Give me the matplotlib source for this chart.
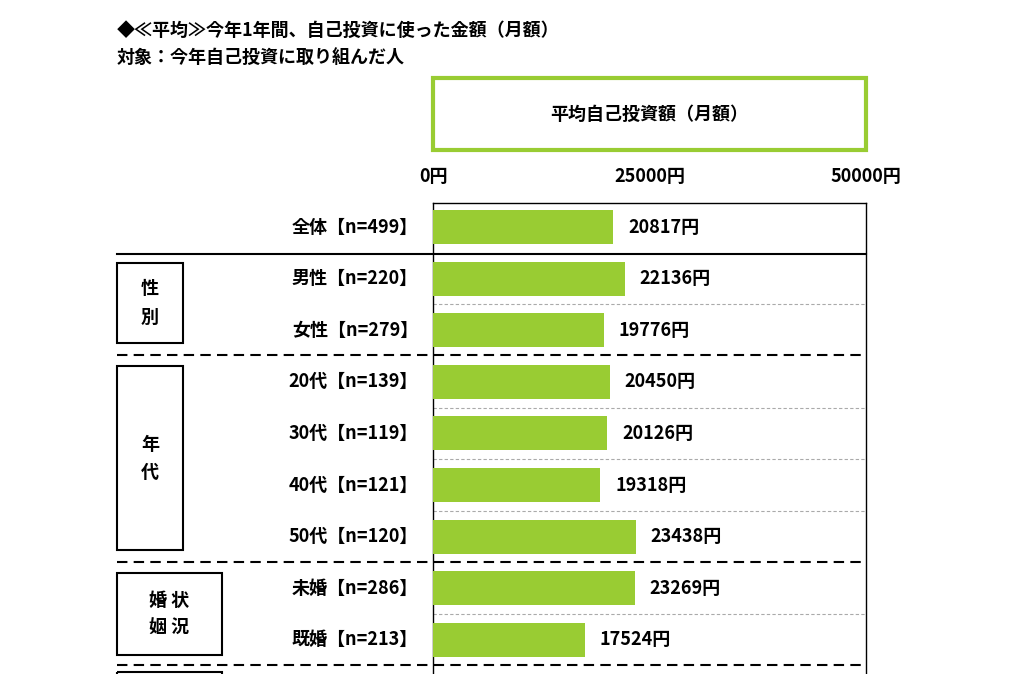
import matplotlib
matplotlib.use("Agg")
import matplotlib.pyplot as plt
from matplotlib.patches import Rectangle

plt.rcParams["font.family"] = "Noto Sans CJK JP"
plt.rcParams["font.weight"] = "bold"

labels = ["全体【n=499】", "男性【n=220】", "女性【n=279】", "20代【n=139】", "30代【n=119】",
          "40代【n=121】", "50代【n=120】", "未婚【n=286】", "既婚【n=213】"]
values = [20817, 22136, 19776, 20450, 20126, 19318, 23438, 23269, 17524]
ticks = [0, 25000, 50000]
tick_labels = ["0円", "25000円", "50000円"]

W, H = 1024, 674
FS = 13
fig = plt.figure(figsize=(W / 100, H / 100), dpi=100)
ov = fig.add_axes([0, 0, 1, 1])
ov.set_xlim(0, W); ov.set_ylim(H, 0); ov.axis("off")

X0, X1 = 433, 866
top, bot, c0, step = 203, 674, 227, 51.6
ax = fig.add_axes([X0 / W, 0, (X1 - X0) / W, (bot - top) / H])
ax.set_xlim(0, 50000)
ax.set_ylim((bot - c0) / step, (top - c0) / step)
green = "#99CC33"
ys = list(range(len(values)))
ax.barh(ys, values, height=0.66, color=green, zorder=3)
for y, v in zip(ys, values):
    ax.text(v + 1700, y, f"{v}円", va="center", ha="left", fontsize=FS, fontweight="bold")
# thin grey dashed row separators within groups
for b in [1.5, 3.5, 4.5, 5.5, 7.5]:
    ax.axhline(b, color="#aaaaaa", lw=0.8, ls=(0, (3, 2)), zorder=1)
ax.set_xticks([]); ax.set_yticks([])
ax.spines["bottom"].set_visible(False)
for s in ["top", "left", "right"]:
    ax.spines[s].set_linewidth(1.0)
ax.patch.set_alpha(0)

for t, tl in zip(ticks, tick_labels):
    ov.text(X0 + t / 50000 * (X1 - X0), 177, tl, ha="center", va="center", fontsize=FS, fontweight="bold")

ov.text(117, 30, "◆≪平均≫今年1年間、自己投資に使った金額（月額）", fontsize=FS, va="center", ha="left", fontweight="bold")
ov.text(117, 57, "対象：今年自己投資に取り組んだ人", fontsize=FS, va="center", ha="left", fontweight="bold")

ov.add_patch(Rectangle((X0, 78), X1 - X0, 72, fill=False, edgecolor=green, lw=3))
ov.text((X0 + X1) / 2, 114, "平均自己投資額（月額）", ha="center", va="center", fontsize=FS, fontweight="bold")

for i, lab in enumerate(labels):
    ov.text(418, c0 + step * i, lab, ha="right", va="center", fontsize=FS, fontweight="bold")

ov.plot([117, X1], [254, 254], color="black", lw=1.5)
for yy in [355, 562, 665]:
    ov.plot([117, X1], [yy, yy], color="black", lw=1.5, ls=(0, (5, 3)))

for (x, y, w, h, t) in [(117, 263, 66, 80, "性\n別"), (117, 366, 66, 184, "年\n代"),
                        (117, 573, 105, 82, "婚 状\n姻 況")]:
    ov.add_patch(Rectangle((x, y), w, h, fill=False, edgecolor="black", lw=1.5))
    ov.text(x + w / 2, y + h / 2, t, ha="center", va="center", fontsize=FS, fontweight="bold", linespacing=1.6)
ov.add_patch(Rectangle((117, 672), 105, 30, fill=False, edgecolor="black", lw=1.5, clip_on=True))

fig.savefig("out.png", dpi=100)
